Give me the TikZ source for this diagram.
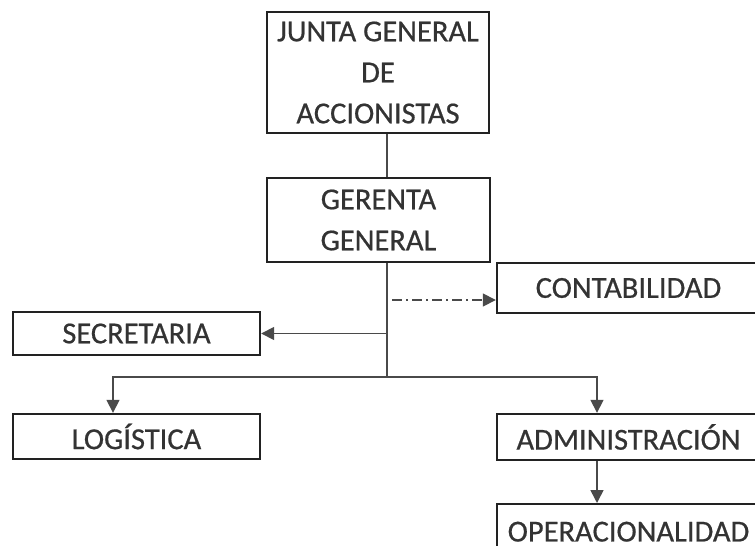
\documentclass[tikz,border=0pt]{standalone}
\usepackage{fontspec}
\setmainfont[FakeBold=0.6,BoldFont=Carlito]{Carlito}
\usetikzlibrary{arrows.meta,calc}
\definecolor{boxline}{HTML}{222222}
\definecolor{conn}{HTML}{4A4A4A}
\definecolor{txt}{HTML}{333333}
\begin{document}
\begin{tikzpicture}[x=1pt,y=-1pt,
  box/.style={draw=boxline,line width=2.4pt,rectangle,inner sep=0pt,align=center,
    text=txt,font=\fontsize{30.5}{41}\bfseries},
  conline/.style={draw=conn,line width=1.6pt},
  arr/.style={conline,-{Triangle[length=13pt,width=13pt]}}]
\useasboundingbox (0,0) rectangle (755,546);
\begin{scope}
\clip (0,0) rectangle (755,546);
\node[box,minimum width=222pt,minimum height=121pt] (junta) at (378,72.5) {JUNTA GENERAL\\DE\\ACCIONISTAS};
\node[box,minimum width=223pt,minimum height=84pt] (gerenta) at (378.5,220) {GERENTA\\GENERAL};
\node[box,minimum width=263pt,minimum height=50pt] (conta) at (628.5,288) {CONTABILIDAD};
\node[box,minimum width=247pt,minimum height=43pt] (secre) at (136.5,333.5) {SECRETARIA};
\node[box,minimum width=247pt,minimum height=45pt] (logis) at (136.5,436.5) {LOGÍSTICA};
\node[box,minimum width=263pt,minimum height=46pt] (admin) at (628.5,437) {ADMINISTRACIÓN};
\node[box,minimum width=263pt,minimum height=60pt,anchor=north] (opera) at (628.5,503) {OPERACIONALIDAD\vphantom{g}};
\coordinate (tx) at (387,0);
\coordinate (hub) at (387,377);
\coordinate (dashstart) at (392,300);
\draw[conline] (junta.south -| tx) -- (gerenta.north -| tx);
\draw[conline] (gerenta.south -| tx) -- (hub);
\draw[arr] (hub |- secre.east) -- (secre.east);
\draw[arr,dash pattern=on 10pt off 4pt on 2pt off 4pt] (dashstart) -- (conta.west |- dashstart);
\coordinate (lx) at (113,377);
\coordinate (ax) at (597,377);
\draw[arr] (hub) -- (lx) -- (lx |- logis.north);
\draw[arr] (hub) -- (ax) -- (ax |- admin.north);
\draw[arr] (ax |- admin.south) -- (ax |- opera.north);
\end{scope}
\end{tikzpicture}
\end{document}
